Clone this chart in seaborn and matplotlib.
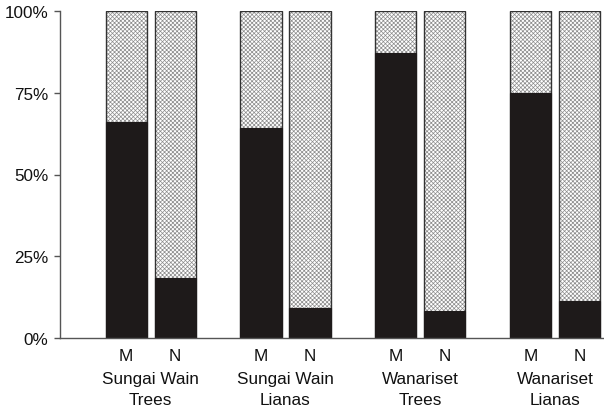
import matplotlib
matplotlib.use("Agg")
import matplotlib.pyplot as plt
import seaborn as sns
import pandas as pd
from matplotlib.ticker import PercentFormatter
from matplotlib.transforms import blended_transform_factory

groups = ["Sungai Wain\nTrees", "Sungai Wain\nLianas", "Wanariset\nTrees", "Wanariset\nLianas"]
bar_labels = ["M", "N", "M", "N", "M", "N", "M", "N"]
black_share = [66.1, 18.3, 64.2, 9.2, 87.2, 8.3, 74.9, 11.4]
total = [100] * 8
positions = [0, 1, 2.75, 3.75, 5.5, 6.5, 8.25, 9.25]

sns.set_style("white")
plt.rcParams["font.family"] = ["Liberation Sans", "DejaVu Sans"]
plt.rcParams["hatch.linewidth"] = 0.5

fig = plt.figure(figsize=(6.04, 4.10), dpi=100)
ax = fig.add_axes([60 / 604, 1 - 339 / 410, 544 / 604, 327 / 410])

df = pd.DataFrame({"pos": positions, "total": total, "black": black_share})

# hatched background (full 100%)
sns.barplot(data=df, x="pos", y="total", native_scale=True, width=0.84,
            color="white", edgecolor="#8c8c8c", linewidth=0, hatch="xxxxxxxx",
            ax=ax, errorbar=None)
# outline
sns.barplot(data=df, x="pos", y="total", native_scale=True, width=0.84,
            fill=False, edgecolor="#333333", linewidth=1.0, ax=ax, errorbar=None)
# black lower share
sns.barplot(data=df, x="pos", y="black", native_scale=True, width=0.84,
            color="#1e1a1a", edgecolor="#1e1a1a", linewidth=0.8, saturation=1,
            ax=ax, errorbar=None)

fs = 12.3
ax.set_xlim(-1.35, 9.75)
ax.set_ylim(0, 100)
ax.set_yticks([0, 25, 50, 75, 100])
ax.yaxis.set_major_formatter(PercentFormatter(decimals=0))
ax.set_xticks(positions)
ax.set_xticklabels(bar_labels)
ax.set_xlabel("")
ax.set_ylabel("")
ax.tick_params(axis="x", length=0, pad=7, labelsize=fs, colors="#111111")
ax.tick_params(axis="y", left=True, length=4.3, width=1, color="#555555",
               labelsize=fs, labelcolor="#111111", pad=4)
for s in ["top", "right"]:
    ax.spines[s].set_visible(False)
for s in ["left", "bottom"]:
    ax.spines[s].set_color("#555555")
    ax.spines[s].set_linewidth(1.0)

trans = blended_transform_factory(ax.transData, ax.transAxes)
for i, g in enumerate(groups):
    cx = (positions[2 * i] + positions[2 * i + 1]) / 2
    ax.text(cx, -33 / 327, g, transform=trans, ha="center", va="top",
            fontsize=fs, color="#111111", linespacing=1.5)

fig.savefig("out.png", dpi=100)
